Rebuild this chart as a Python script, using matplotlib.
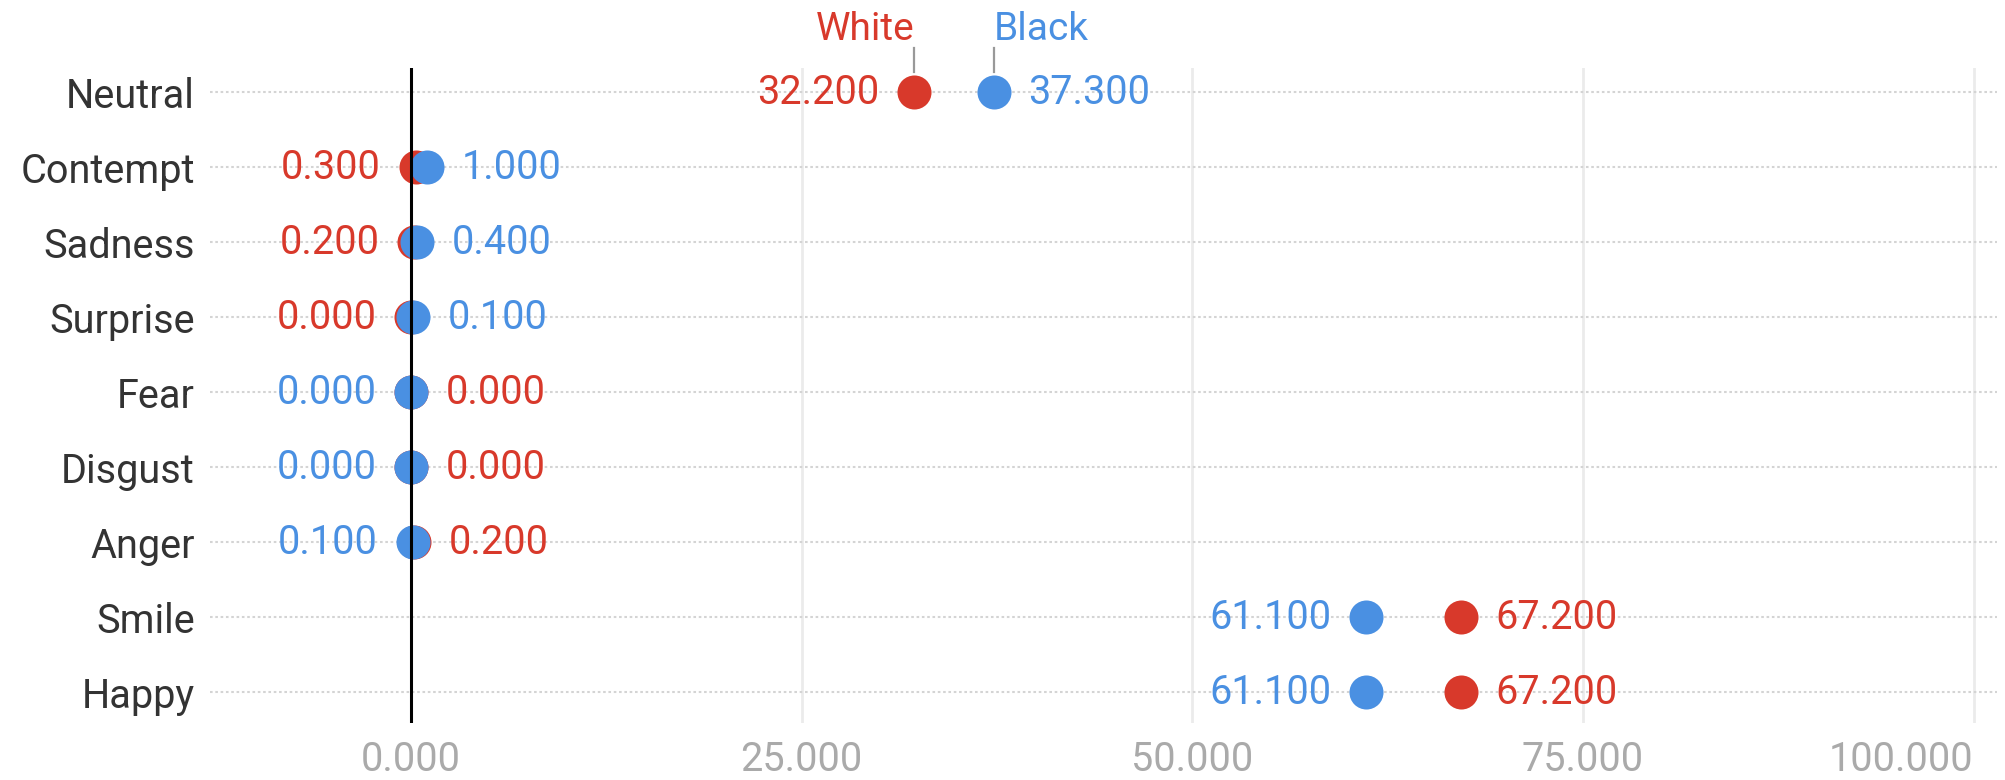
import matplotlib
matplotlib.use("Agg")
import matplotlib.pyplot as plt
import matplotlib.transforms as mtransforms
from matplotlib.lines import Line2D

categories = ["Neutral", "Contempt", "Sadness", "Surprise", "Fear",
              "Disgust", "Anger", "Smile", "Happy"]
white_values = [32.2, 0.3, 0.2, 0.0, 0.0, 0.0, 0.2, 67.2, 67.2]
black_values = [37.3, 1.0, 0.4, 0.1, 0.0, 0.0, 0.1, 61.1, 61.1]
series_names = ["White", "Black"]
x_ticks = [0, 25, 50, 75, 100]

RED = "#D8392B"
BLUE = "#4A90E2"
FONT = "Roboto"

plt.rcParams['font.family'] = [FONT, 'DejaVu Sans']

W, H = 2006, 780
fig = plt.figure(figsize=(W / 100, H / 100), dpi=100)
ax = fig.add_axes([210 / W, 1 - 723 / H, (1997 - 210) / W, (723 - 68) / H])

ax.set_xlim(-12.87, 101.5)
ax.set_ylim(len(categories) - 1 + 0.41, -0.32)

for s in ax.spines.values():
    s.set_visible(False)

ypos = list(range(len(categories)))

# horizontal dotted grid lines
for y in ypos:
    ax.axhline(y, color="#d4d4d4", lw=1.5, linestyle=(0, (1.25, 1.3)), zorder=1)
# vertical grid lines
for t in x_ticks:
    if t == 0:
        ax.axvline(t, color="black", lw=2.2, zorder=10)
    else:
        ax.axvline(t, color="#ebebeb", lw=2.0, zorder=0)

ax.set_yticks(ypos)
ax.set_yticklabels(categories, fontsize=28.5, color="#333333")
ax.set_xticks(x_ticks)
xlabels = ax.set_xticklabels([f"{t:.3f}" for t in x_ticks], fontsize=28.5, color="#aaaaaa")
xlabels[-1].set_ha("right")
ax.tick_params(axis="y", length=0, pad=11)
ax.tick_params(axis="x", length=0, pad=12)

ms = 24.5
ax.plot(white_values, ypos, "o", color=RED, markersize=ms, markeredgewidth=0, zorder=5)
ax.plot(black_values, ypos, "o", color=BLUE, markersize=ms, markeredgewidth=0, zorder=6)

off = 25
for y, wv, bv in zip(ypos, white_values, black_values):
    if wv < bv:
        left, lc, right, rc = wv, RED, bv, BLUE
    else:
        left, lc, right, rc = bv, BLUE, wv, RED
    ax.annotate(f"{left:.3f}", (left, y), xytext=(-off, 0), textcoords="offset points",
                ha="right", va="center", fontsize=28.5, color=lc, zorder=7)
    ax.annotate(f"{right:.3f}", (right, y), xytext=(off, 0), textcoords="offset points",
                ha="left", va="center", fontsize=28.5, color=rc, zorder=7)

# series labels above the first row
trans = mtransforms.blended_transform_factory(ax.transData, fig.transFigure)
for name, val, col, ha in zip(series_names, [white_values[0], black_values[0]],
                              [RED, BLUE], ["right", "left"]):
    fig.text(val, 1 - 40 / H, name, transform=trans, ha=ha, va="baseline",
             fontsize=28, color=col)
    fig.add_artist(Line2D([val, val], [1 - 48 / H, 1 - 72 / H], transform=trans,
                          color="#999999", lw=1.6))

fig.savefig("out.png", dpi=100, facecolor="white")
